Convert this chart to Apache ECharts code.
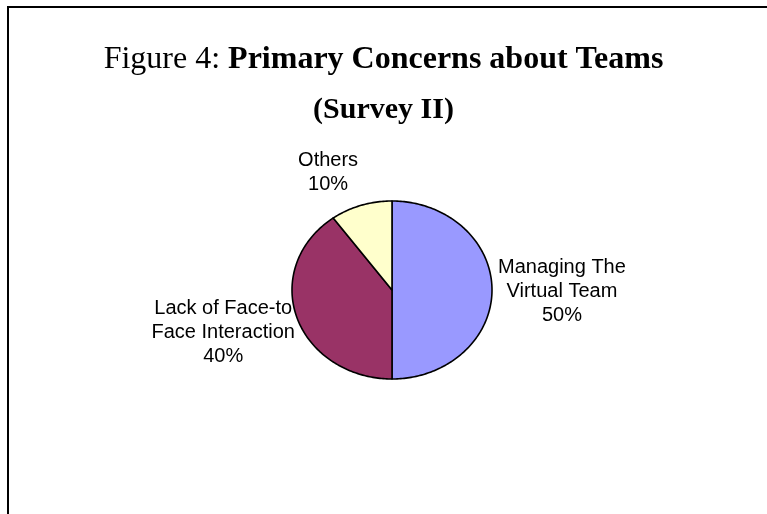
<!DOCTYPE html>
<html>
<head>
<meta charset="utf-8">
<style>
  html, body { margin: 0; padding: 0; background: #fff; }
  #chart { width: 767px; height: 514px; }
</style>
<script src="https://cdn.jsdelivr.net/npm/echarts@6/dist/echarts.min.js"></script>
</head>
<body>
<div id="chart"></div>
<script>
// Survey II: primary concerns about teams
const categories = ['Managing The\nVirtual Team', 'Lack of Face-to\nFace Interaction', 'Others'];
const values = [50, 40, 10];
const sliceColors = ['#9999FF', '#993366', '#FFFFCC'];

// Pie geometry (slightly flattened ellipse) and label placement rules.
// side: which edge of the label block sits at the anchor (left/right/center).
const pie = { cx: 392, cy: 290, rx: 100, ry: 89 };
const labelFont = '20px "Liberation Sans", Arial, sans-serif';
const labelLineHeight = 24;
const labelPlacement = [
  { side: 'left',   vAlign: 'middle', dx: 6,   dy: 1 },
  { side: 'right',  vAlign: 'middle', dx: -2,  dy: 15 },
  { side: 'center', vAlign: 'bottom', dx: -33, dy: -9 }
];

const total = values.reduce((a, b) => a + b, 0);
const startOf = values.map((_, i) => values.slice(0, i).reduce((a, b) => a + b, 0));

const measureCtx = document.createElement('canvas').getContext('2d');
measureCtx.font = labelFont;
function blockWidth(text) {
  return Math.max.apply(null, text.split('\n').map(s => measureCtx.measureText(s).width));
}

function ellipsePoint(t) {
  return [pie.cx + pie.rx * Math.sin(t), pie.cy - pie.ry * Math.cos(t)];
}

function renderSlice(params, api) {
  const i = params.dataIndex;
  const v = api.value(0);
  const a0 = startOf[i] / total * Math.PI * 2;
  const a1 = (startOf[i] + v) / total * Math.PI * 2;
  const n = Math.max(8, Math.ceil((a1 - a0) / (Math.PI / 180)));
  const pts = [[pie.cx, pie.cy]];
  for (let k = 0; k <= n; k++) pts.push(ellipsePoint(a0 + (a1 - a0) * k / n));

  const mid = (a0 + a1) / 2;
  const anchor = ellipsePoint(mid);
  const lp = labelPlacement[i];
  const text = categories[i] + '\n' + Math.round(v / total * 100) + '%';
  const w = blockWidth(text);
  let x = anchor[0] + lp.dx;
  if (lp.side === 'left') x += w / 2;
  else if (lp.side === 'right') x -= w / 2;

  return {
    type: 'group',
    children: [
      {
        type: 'polygon',
        shape: { points: pts },
        style: { fill: sliceColors[i], stroke: '#000', lineWidth: 1.6, lineJoin: 'round' }
      },
      {
        type: 'text',
        style: {
          text: text,
          x: x,
          y: anchor[1] + lp.dy,
          align: 'center',
          verticalAlign: lp.vAlign,
          fill: '#000',
          font: labelFont,
          lineHeight: labelLineHeight
        }
      }
    ]
  };
}

const serif = '"Liberation Serif", "Times New Roman", serif';
const chart = echarts.init(document.getElementById('chart'), null, { renderer: 'canvas' });
chart.setOption({
  backgroundColor: '#fff',
  animation: false,
  title: {
    left: 'center',
    top: 30,
    text: '{a|Figure 4: }{b|Primary Concerns about Teams}\n{c|(Survey II)}',
    textStyle: {
      rich: {
        a: { fontFamily: serif, fontSize: 32, fontWeight: 'normal', color: '#000', lineHeight: 50 },
        b: { fontFamily: serif, fontSize: 32, fontWeight: 'bold', color: '#000', lineHeight: 50 },
        c: { fontFamily: serif, fontSize: 30, fontWeight: 'bold', color: '#000', lineHeight: 50 }
      }
    }
  },
  graphic: [
    {
      type: 'rect',
      shape: { x: 8, y: 7, width: 900, height: 700 },
      style: { fill: 'none', stroke: '#000', lineWidth: 2 },
      z: -1
    }
  ],
  series: [{
    type: 'custom',
    coordinateSystem: 'none',
    renderItem: renderSlice,
    data: values
  }]
});
</script>
</body>
</html>
